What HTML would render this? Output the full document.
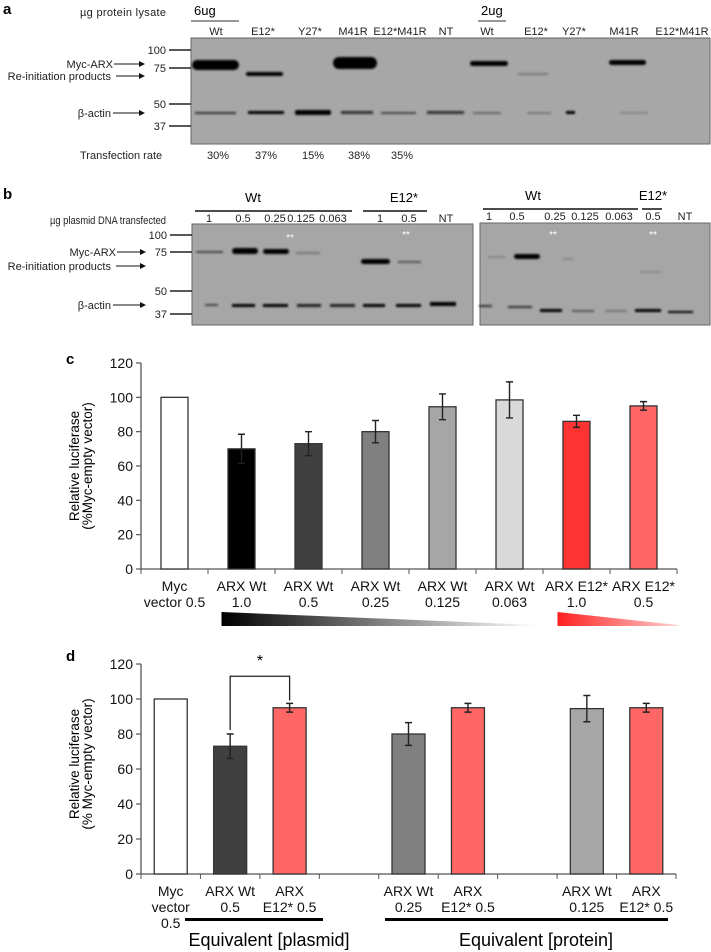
<!DOCTYPE html>
<html><head><meta charset="utf-8"><style>
html,body{margin:0;padding:0;background:#fff;}
svg{display:block;font-family:"Liberation Sans Narrow","Liberation Sans",sans-serif;}
.t{font-size:11px;fill:#222;}
.tk{font-size:14px;fill:#111;}
</style></head><body>
<svg id="fig" width="711" height="952" viewBox="0 0 711 952" xmlns="http://www.w3.org/2000/svg">
<defs>
<filter id="bl" x="-20%" y="-100%" width="140%" height="300%"><feGaussianBlur stdDeviation="1"/></filter>
<marker id="ar" markerWidth="6" markerHeight="6" refX="5" refY="3" orient="auto"><path d="M0,0 L6,3 L0,6 z" fill="#111"/></marker>
<linearGradient id="gblk" x1="0" x2="1" y1="0" y2="0"><stop offset="0" stop-color="#000"/><stop offset="1" stop-color="#fff"/></linearGradient>
<linearGradient id="gred" x1="0" x2="1" y1="0" y2="0"><stop offset="0" stop-color="#ff2020"/><stop offset="1" stop-color="#ffd0d0"/></linearGradient>
</defs>

<!-- Panel a -->
<g>
<text x="3" y="14" font-size="15" font-weight="bold" font-family="Liberation Sans">a</text>
<text class="t" x="80" y="16" textLength="86">µg protein lysate</text>
<text x="194" y="15" font-size="13">6ug</text>
<line x1="191" y1="21" x2="239" y2="21" stroke="#333" stroke-width="1"/>
<text x="481" y="15" font-size="13">2ug</text>
<line x1="478" y1="21" x2="506" y2="21" stroke="#333" stroke-width="1"/>
<g class="t" font-size="10" text-anchor="middle">
<text x="216" y="35">Wt</text><text x="263" y="35">E12*</text><text x="310" y="35">Y27*</text><text x="353" y="35">M41R</text><text x="400" y="35">E12*M41R</text><text x="446" y="35">NT</text><text x="487" y="35">Wt</text><text x="536" y="35">E12*</text><text x="574" y="35">Y27*</text><text x="624" y="35">M41R</text><text x="682" y="35">E12*M41R</text>
</g>
<rect x="191" y="38" width="519" height="106" fill="#a7a7a7" stroke="#666" stroke-width="1"/>
<g fill="#050505">
<rect x="192" y="60" width="47" height="10" rx="5" filter="url(#bl)"/>
<rect x="246" y="72" width="37" height="4" rx="2" filter="url(#bl)"/>
<rect x="333" y="57" width="44" height="12" rx="6" filter="url(#bl)"/>
<rect x="470" y="61" width="38" height="5" rx="2.5" filter="url(#bl)"/>
<rect x="518" y="73" width="30" height="2" fill="#777" filter="url(#bl)"/>
<rect x="609" y="60" width="37" height="5" rx="2.5" filter="url(#bl)"/>
<rect x="195" y="112" width="41" height="2" fill="#333" filter="url(#bl)"/>
<rect x="248" y="111" width="36" height="3" filter="url(#bl)"/>
<rect x="295" y="110" width="36" height="5" rx="2" filter="url(#bl)"/>
<rect x="341" y="111" width="32" height="3" fill="#333" filter="url(#bl)"/>
<rect x="381" y="112" width="35" height="2" fill="#444" filter="url(#bl)"/>
<rect x="427" y="111" width="37" height="3" fill="#333" filter="url(#bl)"/>
<rect x="473" y="112" width="28" height="2" fill="#666" filter="url(#bl)"/>
<rect x="527" y="112" width="24" height="2" fill="#777" filter="url(#bl)"/>
<rect x="566" y="111" width="9" height="3" filter="url(#bl)"/>
<rect x="620" y="112" width="28" height="2" fill="#888" filter="url(#bl)"/>
</g>
<g stroke="#222" stroke-width="1.5">
<line x1="169" y1="50" x2="191" y2="50"/><line x1="169" y1="68" x2="191" y2="68"/><line x1="169" y1="104" x2="191" y2="104"/><line x1="169" y1="126" x2="191" y2="126"/>
</g>
<g class="t" text-anchor="end">
<text x="166" y="54">100</text><text x="166" y="72">75</text><text x="166" y="108">50</text><text x="166" y="130">37</text>
</g>
<g class="t" text-anchor="end">
<text x="113" y="68">Myc-ARX</text><text x="111" y="80">Re-initiation products</text><text x="111" y="117">β-actin</text>
</g>
<g stroke="#111" stroke-width="1" marker-end="url(#ar)">
<line x1="114" y1="64" x2="144" y2="64"/><line x1="116" y1="76" x2="144" y2="76"/><line x1="113" y1="113" x2="144" y2="113"/>
</g>
<text class="t" x="80" y="159">Transfection rate</text>
<g class="t" text-anchor="middle">
<text x="218" y="159">30%</text><text x="266" y="159">37%</text><text x="313" y="159">15%</text><text x="359" y="159">38%</text><text x="402" y="159">35%</text>
</g>
</g>

<!-- Panel b -->
<g>
<text x="3" y="199" font-size="15" font-weight="bold" font-family="Liberation Sans">b</text>
<g font-size="13" text-anchor="middle">
<text x="253" y="202">Wt</text><text x="404" y="202">E12*</text><text x="533" y="200">Wt</text><text x="653" y="200">E12*</text>
</g>
<g stroke="#111" stroke-width="1.5">
<line x1="195" y1="211" x2="352" y2="211"/><line x1="363" y1="211" x2="427" y2="211"/><line x1="483" y1="209" x2="638" y2="209"/><line x1="642" y1="209" x2="662" y2="209"/>
</g>
<text class="t" x="50" y="224" textLength="116" lengthAdjust="spacingAndGlyphs">µg plasmid DNA transfected</text>
<g class="t" font-size="10" text-anchor="middle">
<text x="209" y="222">1</text><text x="243" y="222">0.5</text><text x="275" y="222">0.25</text><text x="301" y="222">0.125</text><text x="333" y="222">0.063</text><text x="380" y="222">1</text><text x="409" y="222">0.5</text><text x="446" y="222">NT</text>
<text x="489" y="220">1</text><text x="517" y="220">0.5</text><text x="555" y="220">0.25</text><text x="585" y="220">0.125</text><text x="619" y="220">0.063</text><text x="653" y="220">0.5</text><text x="685" y="220">NT</text>
</g>
<rect x="192" y="224" width="281" height="101" fill="#a6a6a6" stroke="#666"/>
<rect x="480" y="223" width="230" height="102" fill="#a6a6a6" stroke="#666"/>
<g fill="#050505">
<rect x="196" y="251" width="27" height="2" fill="#444" filter="url(#bl)"/>
<rect x="232" y="248" width="26" height="6" rx="3" filter="url(#bl)"/>
<rect x="263" y="249" width="26" height="5" rx="2.5" filter="url(#bl)"/>
<rect x="296" y="252" width="24" height="2" fill="#777" filter="url(#bl)"/>
<rect x="361" y="259" width="29" height="5" rx="2.5" filter="url(#bl)"/>
<rect x="398" y="261" width="23" height="2" fill="#555" filter="url(#bl)"/>
<rect x="488" y="256" width="18" height="2" fill="#888" filter="url(#bl)"/>
<rect x="514" y="254" width="26" height="5" rx="2.5" filter="url(#bl)"/>
<rect x="563" y="258" width="10" height="2" fill="#888" filter="url(#bl)"/>
<rect x="640" y="271" width="22" height="2" fill="#8a8a8a" filter="url(#bl)"/>
<rect x="205" y="304" width="13" height="2" fill="#444" filter="url(#bl)"/>
<rect x="232" y="304" width="23" height="3" filter="url(#bl)"/>
<rect x="263" y="304" width="25" height="3" filter="url(#bl)"/>
<rect x="297" y="304" width="24" height="3" fill="#222" filter="url(#bl)"/>
<rect x="330" y="304" width="25" height="3" fill="#222" filter="url(#bl)"/>
<rect x="363" y="304" width="22" height="3" filter="url(#bl)"/>
<rect x="396" y="304" width="25" height="3" filter="url(#bl)"/>
<rect x="430" y="302" width="26" height="4" filter="url(#bl)"/>
<rect x="479" y="305" width="13" height="2" fill="#333" filter="url(#bl)"/>
<rect x="508" y="306" width="24" height="2" fill="#333" filter="url(#bl)"/>
<rect x="540" y="309" width="22" height="3" filter="url(#bl)"/>
<rect x="572" y="310" width="22" height="2" fill="#555" filter="url(#bl)"/>
<rect x="605" y="310" width="22" height="2" fill="#777" filter="url(#bl)"/>
<rect x="635" y="309" width="26" height="3" filter="url(#bl)"/>
<rect x="668" y="311" width="25" height="2" filter="url(#bl)"/>
</g>
<g fill="#fff" font-size="10" text-anchor="middle">
<text x="290" y="241">**</text><text x="406" y="238">**</text><text x="553" y="238">**</text><text x="653" y="238">**</text>
</g>
<g stroke="#222" stroke-width="1.5">
<line x1="170" y1="235" x2="192" y2="235"/><line x1="170" y1="252" x2="192" y2="252"/><line x1="170" y1="291" x2="192" y2="291"/><line x1="170" y1="314" x2="192" y2="314"/>
</g>
<g class="t" text-anchor="end">
<text x="167" y="239">100</text><text x="167" y="256">75</text><text x="167" y="295">50</text><text x="167" y="318">37</text>
</g>
<g class="t" text-anchor="end">
<text x="116" y="256">Myc-ARX</text><text x="111" y="270">Re-initiation products</text><text x="111" y="309">β-actin</text>
</g>
<g stroke="#111" stroke-width="1" marker-end="url(#ar)">
<line x1="117" y1="252" x2="145" y2="252"/><line x1="116" y1="266" x2="145" y2="266"/><line x1="113" y1="305" x2="145" y2="305"/>
</g>
</g>

<g id="chartC"></g>
<g id="chartD"></g>
</svg>
<script>
const cCategories = [["Myc","vector 0.5"],["ARX Wt","1.0"],["ARX Wt","0.5"],["ARX Wt","0.25"],["ARX Wt","0.125"],["ARX Wt","0.063"],["ARX E12*","1.0"],["ARX E12*","0.5"]];
const cValues = [100, 70, 73, 80, 94.5, 98.5, 86, 95];
const cErrors = [0, 8.5, 7, 6.5, 7.5, 10.5, 3.5, 2.5];
const cColors = ["#ffffff","#000000","#404040","#808080","#a6a6a6","#d9d9d9","#ff3333","#ff6666"];
const dCategories = [["Myc","vector","0.5"],["ARX Wt","0.5"],["ARX","E12* 0.5"],null,["ARX Wt","0.25"],["ARX","E12* 0.5"],null,["ARX Wt","0.125"],["ARX","E12* 0.5"]];
const dValues = [100, 73, 95, null, 80, 95, null, 94.5, 95];
const dErrors = [0, 7, 2.5, null, 6.5, 2.5, null, 7.5, 2.5];
const dColors = ["#ffffff","#404040","#ff6666",null,"#808080","#ff6666",null,"#a6a6a6","#ff6666"];
const yTicks = [0, 20, 40, 60, 80, 100, 120];

const NS = "http://www.w3.org/2000/svg";
function mk(parent, tag, attrs, text){
  const e = document.createElementNS(NS, tag);
  for (const k in attrs) e.setAttribute(k, attrs[k]);
  if (text !== undefined) e.textContent = text;
  parent.appendChild(e);
  return e;
}
function drawChart(g, cfg){
  const {x0, x1, yTop, yBot, cats, vals, errs, cols, barW, labelY, lineH, ttl, ttlY, letter, letterY} = cfg;
  const yScale = v => yBot - (v / 120) * (yBot - yTop);
  const band = (x1 - x0) / cats.length;
  const xCenter = i => x0 + band * (i + 0.5);
  const L = mk(g, "text", {x: 66, y: letterY, "font-size": 15, "font-weight": "bold", "font-family": "Liberation Sans"}, letter);
  
  
  const ya = mk(g, "line", {x1: x0, y1: yTop, x2: x0, y2: yBot, stroke: "#555", "stroke-width": 1.3});
  
  
  yTicks.forEach(t => {
    const y = yScale(t);
    const tl = mk(g, "line", {x1: x0 - 5, y1: y, x2: x0, y2: y, stroke: "#555", "stroke-width": 1.2});
    
    
    const tx = mk(g, "text", {x: x0 - 8, y: y + 5, "text-anchor": "end", class: "tk"}, String(t));
    
    
  });
  const xa = mk(g, "line", {x1: x0, y1: yBot, x2: x1, y2: yBot, stroke: "#555", "stroke-width": 1.3});
  
  
  for (let i = 0; i <= cats.length; i++) {
    const xt = x0 + band * i;
    const tl = mk(g, "line", {x1: xt, y1: yBot, x2: xt, y2: yBot + 5, stroke: "#555", "stroke-width": 1});
    
    
  }
  cats.forEach((c, i) => {
    if (vals[i] === null) return;
    const cx = xCenter(i);
    const y = yScale(vals[i]);
    const r = mk(g, "rect", {x: cx - barW / 2, y: y, width: barW, height: yBot - y, fill: cols[i], stroke: "#333", "stroke-width": 1.3});
    
    
    if (errs[i]) {
      const yh = yScale(vals[i] + errs[i]), yl = yScale(vals[i] - errs[i]);
      const eb = mk(g, "path", {d: `M${cx},${yh}V${yl}M${cx-3.5},${yh}H${cx+3.5}M${cx-3.5},${yl}H${cx+3.5}`, stroke: "#222", "stroke-width": 1.4, fill: "none"});
      
      
    }
    c.forEach((ln, k) => {
      const t = mk(g, "text", {x: cx, y: labelY + k * lineH, "text-anchor": "middle", class: "tk"}, ln);
      
      
    });
  });
  const t1 = mk(g, "text", {x: 0, y: 0, "text-anchor": "middle", "font-size": 13.5, "font-family": "Liberation Sans", transform: `translate(79,${ttlY}) rotate(-90)`}, "Relative luciferase");
  
  
  const t2 = mk(g, "text", {x: 0, y: 0, "text-anchor": "middle", "font-size": 13.5, "font-family": "Liberation Sans", transform: `translate(92,${ttlY}) rotate(-90)`}, ttl);
  
  
  return {xCenter, yScale, band};
}
const gc = document.getElementById("chartC");
const C = drawChart(gc, {x0: 141, x1: 677, yTop: 363, yBot: 569, cats: cCategories, vals: cValues, errs: cErrors, cols: cColors, barW: 27, labelY: 591, lineH: 16, ttl: "(%Myc-empty vector)", ttlY: 466, letter: "c", letterY: 364});
const wb = mk(gc, "polygon", {points: `${C.xCenter(1)-20},612 ${C.xCenter(5)+28},625 ${C.xCenter(5)+28},626 ${C.xCenter(1)-20},626`, fill: "url(#gblk)"});


const rb = mk(gc, "polygon", {points: `${C.xCenter(6)-19},612 ${C.xCenter(7)+34},625 ${C.xCenter(7)+34},626 ${C.xCenter(6)-19},626`, fill: "url(#gred)"});



const gd = document.getElementById("chartD");
const D = drawChart(gd, {x0: 141, x1: 676, yTop: 664, yBot: 874, cats: dCategories.map(c => c || []), vals: dValues, errs: dErrors, cols: dColors, barW: 33, labelY: 896, lineH: 16, ttl: "(% Myc-empty vector)", ttlY: 764, letter: "d", letterY: 661});
const xa = D.xCenter(1), xb = D.xCenter(2);
const br = mk(gd, "path", {d: `M${xa},${D.yScale(80)-4}V${D.yScale(113)}H${xb}V${D.yScale(98)-2}`, stroke: "#222", "stroke-width": 1.3, fill: "none"});


const st = mk(gd, "text", {x: (xa + xb) / 2, y: 666, "text-anchor": "middle", "font-size": 16}, "*");


const l1 = mk(gd, "rect", {x: 185, y: 918, width: 138, height: 3, fill: "#000"});


const l2 = mk(gd, "rect", {x: 385, y: 918, width: 283, height: 3, fill: "#000"});


const e1 = mk(gd, "text", {x: 269, y: 946, "text-anchor": "middle", "font-size": 18}, "Equivalent [plasmid]");


const e2 = mk(gd, "text", {x: 536, y: 946, "text-anchor": "middle", "font-size": 18}, "Equivalent [protein]");


</script>
</body></html>
